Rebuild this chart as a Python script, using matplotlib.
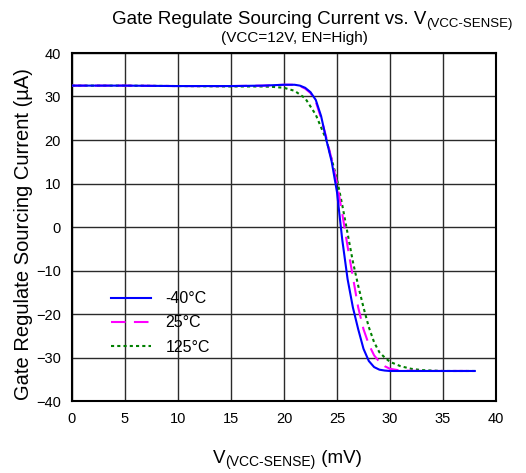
import matplotlib
matplotlib.use("Agg")
import matplotlib.pyplot as plt

plt.rcParams['font.family'] = ['Liberation Sans', 'DejaVu Sans']

# sourcing current vs. sense voltage, one trace per temperature
v_m40 = [0, 5, 10, 15, 18, 20, 21, 21.5, 22, 22.5, 23, 23.5, 24, 24.5, 25, 25.5,
         26, 26.5, 27, 27.5, 28, 28.5, 29, 29.5, 30, 32, 35, 38]
i_m40 = [32.5, 32.5, 32.4, 32.4, 32.5, 32.7, 32.7, 32.5, 32.0, 31.0, 29.2, 25.5,
         20.0, 15.0, 8.0, -3.0, -12.0, -18.5, -23.5, -28.0, -30.8, -32.2, -32.8,
         -33.0, -33.1, -33.1, -33.1, -33.1]

v_25 = [0, 5, 10, 15, 18, 20, 21, 21.5, 22, 22.5, 23, 23.5, 24, 24.5, 25, 25.5,
        26, 26.5, 27, 27.5, 28, 28.5, 29, 29.5, 30, 31, 33, 35, 38]
i_25 = [32.5, 32.5, 32.4, 32.4, 32.5, 32.7, 32.7, 32.4, 31.8, 30.8, 28.8, 25.0,
        20.5, 15.5, 10.0, 3.0, -4.5, -11.5, -18.5, -23.5, -27.0, -29.5, -31.0,
        -32.0, -32.6, -33.0, -33.1, -33.1, -33.1]

v_125 = [0, 5, 10, 15, 17, 18, 19, 20, 21, 22, 23, 24, 25, 25.5, 26, 26.5, 27,
         27.5, 28, 28.5, 29, 29.5, 30, 31, 32, 33, 35, 38]
i_125 = [32.5, 32.5, 32.4, 32.3, 32.3, 32.3, 32.2, 32.0, 31.3, 29.6, 25.8, 20.0,
         11.0, 5.0, -1.5, -8.0, -13.5, -18.5, -23.0, -26.5, -28.8, -30.0, -31.0,
         -32.0, -32.6, -32.9, -33.1, -33.1]

x_ticks = [0, 5, 10, 15, 20, 25, 30, 35, 40]
y_ticks = [-40, -30, -20, -10, 0, 10, 20, 30, 40]

W, H = 526, 473
fig = plt.figure(figsize=(W / 100, H / 100), dpi=100)
ax = fig.add_axes([72 / W, 1 - 401 / H, 424 / W, 348 / H])

ax.plot(v_m40, i_m40, color='#0000FF', lw=1.5, label='-40°C', zorder=5)
ax.plot(v_25, i_25, color='#FF00FF', lw=1.5, dashes=(7, 4), label='25°C', zorder=4)
ax.plot(v_125, i_125, color='#008000', lw=1.5, dashes=(1.5, 1.5), label='125°C', zorder=3)

ax.set_xlim(0, 40)
ax.set_ylim(-40, 40)
ax.set_xticks(x_ticks)
ax.set_yticks(y_ticks)
ax.tick_params(length=0, labelsize=10.5, pad=8)
ax.grid(True, color='#2a2a2a', lw=1)
for s in ax.spines.values():
    s.set_linewidth(1.5)

ax.set_ylabel('Gate Regulate Sourcing Current (µA)', fontsize=14.5)
ax.yaxis.set_label_coords(-0.093, 0.48)

leg = ax.legend(loc='upper left', bbox_to_anchor=(0.058, 0.357), frameon=False,
                fontsize=11.5, handlelength=2.5, handletextpad=0.9, labelspacing=0.58)

# titles and x label built from main text plus a subscript part
renderer = fig.canvas.get_renderer()


def with_subscript(x, y, main, sub, size, sub_size, tail=None):
    t = fig.text(x / W, 1 - y / H, main, fontsize=size, ha='left', va='baseline')
    x1 = t.get_window_extent(renderer).x1
    s = fig.text(x1 / W, 1 - (y + 3) / H, sub, fontsize=sub_size,
                 ha='left', va='baseline')
    if tail:
        x2 = s.get_window_extent(renderer).x1
        fig.text(x2 / W, 1 - y / H, tail, fontsize=size, ha='left', va='baseline')


with_subscript(112, 24, 'Gate Regulate Sourcing Current vs. V', '(VCC-SENSE)', 13.5, 9.5)
fig.text(294 / W, 1 - 42 / H, '(VCC=12V, EN=High)', fontsize=11, ha='center',
         va='baseline')
with_subscript(213, 463, 'V', '(VCC-SENSE)', 13.5, 10, tail=' (mV)')

fig.savefig('out.png', dpi=100)
